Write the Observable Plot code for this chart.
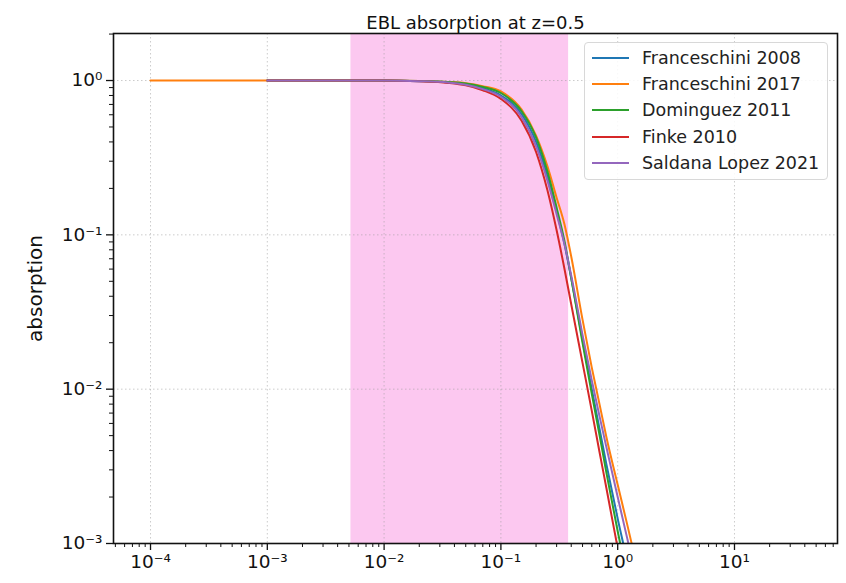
<!DOCTYPE html>
<html>
<head>
<meta charset="utf-8">
<script src="https://cdn.jsdelivr.net/npm/d3@7"></script>
<script src="https://cdn.jsdelivr.net/npm/@observablehq/plot@0.6"></script>
<style>
  html, body { margin: 0; padding: 0; background: #fff; }
  #wrap { position: relative; width: 846px; height: 583px; font-family: "DejaVu Sans", sans-serif; }
  #legend { position: absolute; left: 584px; top: 42px; width: 244px; height: 138px;
    border: 1px solid #d8d8d8; border-radius: 4px; background: rgba(255,255,255,0.85); box-sizing: border-box; }
  .row { position: absolute; left: 0; height: 22px; }
  .sw { position: absolute; left: 7px; top: 10px; width: 37px; height: 0; border-top: 2px solid; }
  .lbl { position: absolute; left: 57px; top: 0; line-height: 22px; font-size: 17.5px; color: #222; white-space: nowrap; }
</style>
</head>
<body>
<div id="wrap"><div id="legend"></div></div>
<script>
// Photon energy (TeV)
const energyTeV = [1e-4, 1e-3, 0.01, 0.02, 0.035, 0.05, 0.07, 0.1, 0.15, 0.2, 0.25, 0.3, 0.35, 0.4, 0.5, 0.6, 0.7, 0.8, 1.0, 1.2, 1.4, 1.6];
// Absorption per EBL model (null = not drawn)
const franceschini2008 = [null, 1, 1, 0.991, 0.973, 0.947, 0.893, 0.800, 0.608, 0.400, 0.240, 0.142, 0.0875, 0.0525, 0.0209, 0.0100, 0.0055, 0.00327, 0.00145, 0.000776, 0.000437, 0.000257];
const franceschini2017 = [1, 1, 1, 0.994, 0.980, 0.962, 0.920, 0.850, 0.650, 0.440, 0.279, 0.174, 0.117, 0.0724, 0.0282, 0.0138, 0.00794, 0.0049, 0.0024, 0.00135, 0.000813, 0.000501];
const dominguez2011 = [null, 1, 1, 0.993, 0.978, 0.957, 0.910, 0.830, 0.635, 0.428, 0.258, 0.150, 0.0912, 0.0525, 0.0200, 0.00933, 0.00501, 0.00288, 0.00120, 0.000617, 0.000347, 0.000200];
const finke2010 = [null, 1, 1, 0.988, 0.965, 0.930, 0.865, 0.760, 0.550, 0.345, 0.195, 0.107, 0.0603, 0.0355, 0.0148, 0.00724, 0.00389, 0.00229, 0.000933, 0.000468, 0.000251, 0.000141];
const saldanaLopez2021 = [null, 1, 1, 0.990, 0.970, 0.940, 0.880, 0.785, 0.580, 0.375, 0.225, 0.136, 0.0871, 0.0545, 0.0225, 0.0114, 0.00664, 0.00421, 0.0020, 0.0011, 0.000646, 0.000389];

const seriesNames = ["Franceschini 2008", "Franceschini 2017", "Dominguez 2011", "Finke 2010", "Saldana Lopez 2021"];
const seriesColors = ["#1f77b4", "#ff7f0e", "#2ca02c", "#d62728", "#9467bd"];
const seriesValues = [franceschini2008, franceschini2017, dominguez2011, finke2010, saldanaLopez2021];

// Shaded energy band (TeV)
const bandLow = 0.0052;
const bandHigh = 0.38;

const xTicks = [1e-4, 1e-3, 1e-2, 1e-1, 1, 10];
const xTickLabels = ["10\u207B\u2074", "10\u207B\u00B3", "10\u207B\u00B2", "10\u207B\u00B9", "10\u2070", "10\u00B9"];
const yTicks = [1e-3, 1e-2, 1e-1, 1];
const yTickLabels = ["10\u207B\u00B3", "10\u207B\u00B2", "10\u207B\u00B9", "10\u2070"];

const title = "EBL absorption at z=0.5";
const yLabel = "absorption";

const xDomain = [4.82e-5, 76.2];
const yDomain = [1e-3, 2.017];

const rows = [];
seriesValues.forEach((vals, i) => {
  vals.forEach((v, j) => { if (v != null) rows.push({model: seriesNames[i], e: energyTeV[j], a: v}); });
});

function minors(lo, hi) {
  const out = [];
  for (let e = Math.floor(Math.log10(lo)); e <= Math.ceil(Math.log10(hi)); e++)
    for (let k = 2; k <= 9; k++) { const v = k * Math.pow(10, e); if (v >= lo && v <= hi) out.push(v); }
  return out;
}
const xMinor = minors(xDomain[0], xDomain[1]);
const yMinor = minors(yDomain[0], yDomain[1]);
const fmtX = d => xTickLabels[xTicks.indexOf(d)];
const fmtY = d => yTickLabels[yTicks.indexOf(d)];

const chart = Plot.plot({
  width: 846,
  height: 583,
  marginLeft: 113,
  marginRight: 9,
  marginTop: 33,
  marginBottom: 40,
  style: {fontFamily: "DejaVu Sans, sans-serif", fontSize: "16px", color: "#111", background: "white"},
  x: {type: "log", domain: xDomain},
  y: {type: "log", domain: yDomain},
  color: {domain: seriesNames, range: seriesColors},
  marks: [
    Plot.rect([{x1: bandLow, x2: bandHigh}], {x1: "x1", x2: "x2", fill: "#fcc8f0"}),
    Plot.gridX(xTicks, {stroke: "#999", strokeOpacity: 0.5, strokeDasharray: "1.5,2.5", strokeWidth: 1}),
    Plot.gridY(yTicks, {stroke: "#999", strokeOpacity: 0.5, strokeDasharray: "1.5,2.5", strokeWidth: 1}),
    Plot.line(rows, {x: "e", y: "a", z: "model", stroke: d => d.model, strokeWidth: 2, curve: "monotone-x", clip: true}),
    Plot.frame({stroke: "#111", strokeWidth: 1.6}),
    Plot.axisX(xTicks, {tickSize: 7, tickPadding: 4, strokeWidth: 1.3, tickFormat: fmtX, label: null, fontSize: 18.5}),
    Plot.axisX(xMinor, {tickSize: 4, strokeWidth: 1, text: null, label: null}),
    Plot.axisY(yTicks, {tickSize: 7, tickPadding: 4, strokeWidth: 1.3, tickFormat: fmtY, label: null, fontSize: 18.5}),
    Plot.axisY(yMinor, {tickSize: 4, strokeWidth: 1, text: null, label: null}),
    Plot.text([title], {frameAnchor: "top", dy: -17, text: d => d, fontSize: 18, fill: "#111"}),
    Plot.text([yLabel], {frameAnchor: "left", textAnchor: "middle", dx: -78, rotate: -90, text: d => d, fontSize: 20, fill: "#111"})
  ]
});
document.getElementById("wrap").prepend(chart);

const legend = document.getElementById("legend");
seriesNames.forEach((name, i) => {
  const row = document.createElement("div");
  row.className = "row";
  row.style.top = (4 + i * 26.2) + "px";
  row.style.width = "100%";
  const sw = document.createElement("div");
  sw.className = "sw";
  sw.style.borderTopColor = seriesColors[i];
  const lbl = document.createElement("div");
  lbl.className = "lbl";
  lbl.textContent = name;
  row.appendChild(sw);
  row.appendChild(lbl);
  legend.appendChild(row);
});
</script>
</body>
</html>
